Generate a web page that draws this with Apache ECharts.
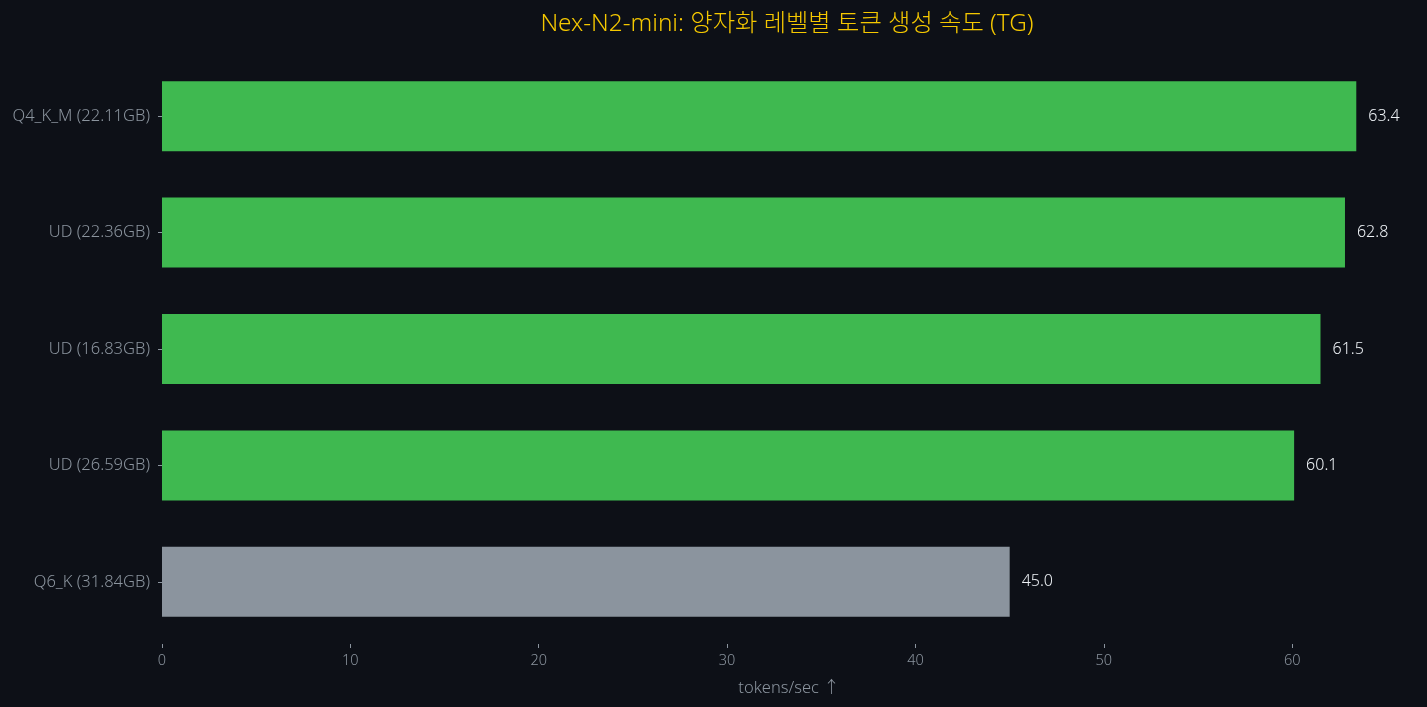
<!DOCTYPE html>
<html>
<head>
<meta charset="utf-8">
<script src="https://cdn.jsdelivr.net/npm/echarts@6/dist/echarts.min.js"></script>
<style>
  html,body{margin:0;padding:0;background:#0d1017;}
  #chart{width:1427px;height:707px;}
</style>
</head>
<body>
<div id="chart"></div>
<script>
// 양자화 레벨별 TG 속도
var categories = ["Q4_K_M (22.11GB)", "UD (22.36GB)", "UD (16.83GB)", "UD (26.59GB)", "Q6_K (31.84GB)"];
var speeds = [63.4, 62.8, 61.5, 60.1, 45.0];
var isBaseline = [false, false, false, false, true];
var xTicks = [0, 10, 20, 30, 40, 50, 60];

var FONT = "'Noto Sans', 'Noto Sans CJK KR', sans-serif";
var GREEN = "#3fb950", GRAY = "#8b949e";

var chart = echarts.init(document.getElementById("chart"));

var barData = [];
for (var i = 0; i < speeds.length; i++) {
	barData.push({
		value: speeds[i],
		itemStyle: { color: isBaseline[i] ? GRAY : GREEN }
	});
}

chart.setOption({
	backgroundColor: "#0d1017",
	animation: false,
	textStyle: { fontFamily: FONT },
	title: {
		text: "Nex-N2-mini: 양자화 레벨별 토큰 생성 속도 (TG)",
		left: 782,
		textAlign: "center",
		top: 7,
		textStyle: { color: "#f5c800", fontSize: 24.3, fontWeight: 300, fontFamily: FONT }
	},
	grid: { left: 162, right: 11, top: 58, height: 582 },
	xAxis: {
		type: "value",
		min: 0,
		max: 66.57,
		interval: 10,
		offset: 4,
		splitLine: { show: false },
		axisLine: { show: false },
		axisTick: { show: true, length: 4, lineStyle: { color: GRAY }, customValues: xTicks },
		axisLabel: { color: GRAY, fontSize: 14.5, fontWeight: 300, margin: 10, customValues: xTicks },
		name: "tokens/sec ↑",
		nameLocation: "middle",
		nameGap: 36,
		nameTextStyle: { color: GRAY, fontSize: 16.5, fontWeight: 300, fontFamily: FONT }
	},
	yAxis: {
		type: "category",
		data: categories,
		inverse: true,
		axisLine: { show: false },
		axisTick: { show: true, length: 4, alignWithLabel: true, lineStyle: { color: GRAY } },
		axisLabel: { color: GRAY, fontSize: 16.5, fontWeight: 300, margin: 12 },
		splitLine: { show: false }
	},
	series: [{
		type: "bar",
		data: barData,
		barWidth: 70,
		label: {
			show: true,
			position: "right",
			distance: 12,
			color: "#eef2f6",
			fontSize: 16,
			fontWeight: 300,
			formatter: function (p) { return p.value.toFixed(1); }
		}
	}]
});
</script>
</body>
</html>
